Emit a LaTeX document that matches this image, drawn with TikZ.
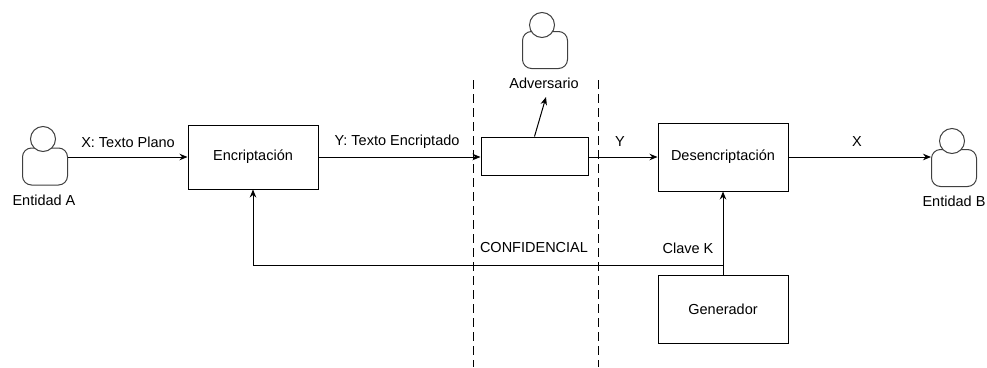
\documentclass[tikz,border=0pt]{standalone}
\usepackage{fontspec}
\setmainfont{Liberation Sans}
\usetikzlibrary{arrows.meta}
\begin{document}
\begin{tikzpicture}[x=1pt,y=-1pt,
  font=\fontsize{14.5}{17}\selectfont, line width=1pt,
  box/.style={draw, rectangle, minimum width=130pt, minimum height=66pt, inner sep=0pt},
  body/.style={draw=black!75, rounded corners=9pt, fill=white, minimum width=45pt, minimum height=37pt, inner sep=0pt},
  head/.style={draw=black!75, circle, fill=white, minimum size=25pt, inner sep=0pt},
  arr/.style={-{Stealth[length=8pt,width=6.5pt]}},
  lbl/.style={inner sep=0pt},
  sep/.style={dashed, dash pattern=on 9pt off 5pt, line width=1pt}]
\useasboundingbox (0,0) rectangle (987,367);

% boxes
\node[box, minimum height=64pt] (E) at (253,157) {Encriptación};
\node[box, minimum width=107pt, minimum height=38pt] (C) at (534.5,156) {};
\node[box, minimum height=68pt] (D) at (723,157) {Desencriptación};
\node[box, minimum height=68pt] (G) at (723,309) {Generador};

% actors
\node[body] (A) at (45,166.5) {};
\node[head] (Ah) at (43,139) {};
\node[lbl] (At) at (44,200) {Entidad A};

\node[body] (V) at (545,50) {};
\node[head] (Vh) at (542,25) {};
\node[lbl] (Vt) at (544,83) {Adversario};

\node[body] (B) at (954,168) {};
\node[head] (Bh) at (952,141) {};
\node[lbl] (Bt) at (954,201) {Entidad B};

% separators
\coordinate (s1t) at (473,80); \coordinate (s1b) at (473,367);
\coordinate (s2t) at (598,80); \coordinate (s2b) at (598,367);
\draw[sep] (s1t) -- (s1b);
\draw[sep] (s2t) -- (s2b);

% main flow
\draw[arr] (A.east |- E.west) -- (E.west);
\node[lbl] (l1) at (128,142) {X: Texto Plano};
\draw[arr] (E.east) -- (C.west |- E.east);
\node[lbl] (l2) at (397,142) {Y: Texto Encriptado};
\draw[arr] (C.east |- D.west) -- (D.west);
\node[lbl] (l3) at (620,142) {Y};
\draw[arr] (D.east) -- (B.west |- D.east);
\node[lbl] (l4) at (857,142) {X};

% adversary tap
\coordinate (vt) at (546,97);
\draw[arr] (C.north) -- (vt);

% key distribution
\coordinate (k) at (723,265);
\draw[arr] (G.north) -- (D.south);
\draw[arr] (k) -- (E.south |- k) -- (E.south);
\node[lbl] (l5) at (688,248) {Clave K};
\node[lbl] (l6) at (534,248) {CONFIDENCIAL};
\end{tikzpicture}
\end{document}
